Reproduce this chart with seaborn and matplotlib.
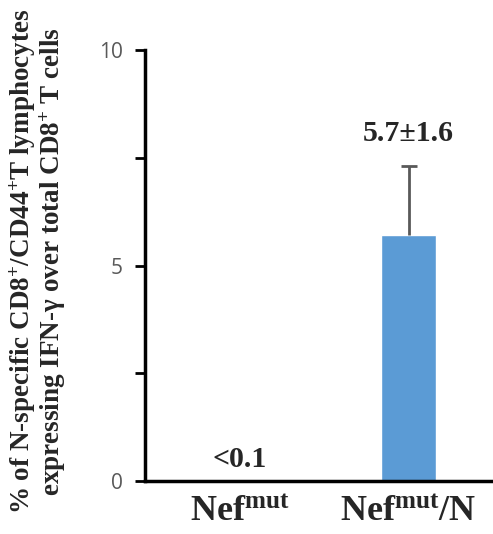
import matplotlib
matplotlib.use("Agg")
import matplotlib.pyplot as plt
import seaborn as sns
import pandas as pd
import numpy as np
from matplotlib.ticker import MultipleLocator

groups = [r"Nef$^{\mathrm{mut}}$", r"Nef$^{\mathrm{mut}}$/N"]
means = [0.0, 5.7]
errors = [0.0, 1.6]
bar_labels = ["<0.1", "5.7±1.6"]

sns.set_style("white")
plt.rcParams["font.family"] = ["Liberation Serif", "DejaVu Serif"]
plt.rcParams["mathtext.fontset"] = "custom"
plt.rcParams["mathtext.rm"] = "Liberation Serif:bold"
plt.rcParams["mathtext.it"] = "Liberation Serif:bold:italic"
plt.rcParams["mathtext.bf"] = "Liberation Serif:bold"

df = pd.DataFrame({"group": groups, "value": means})

fig = plt.figure(figsize=(4.93, 5.34), dpi=100)
ax = fig.add_axes([0.294, 0.0993, 0.706, 0.807])

sns.barplot(data=df, x="group", y="value", color="#5B9BD5", width=0.33,
            errorbar=None, ax=ax, saturation=1)

idx = [i for i, e in enumerate(errors) if e > 0]
m_sel = np.array([means[i] for i in idx])
e_sel = np.array([errors[i] for i in idx])
_, caplines, _ = ax.errorbar(idx, m_sel, yerr=[np.zeros_like(e_sel), e_sel],
                             fmt="none", ecolor="#595959", elinewidth=2,
                             capsize=6, capthick=2)
for cl in caplines:
    if np.allclose(cl.get_ydata(), m_sel):
        cl.set_visible(False)

ax.set_ylim(0, 10)
ax.set_xlim(-0.56, 1.50)
ax.yaxis.set_major_locator(MultipleLocator(5))
ax.yaxis.set_minor_locator(MultipleLocator(2.5))
ax.tick_params(axis="y", which="both", direction="out", length=7, width=2,
               color="black", left=True, labelsize=15, labelcolor="#595959", pad=9)
for lab in ax.get_yticklabels():
    lab.set_family(["Open Sans", "DejaVu Sans"])
ax.tick_params(axis="x", length=0, pad=11)
ax.set_xticklabels(groups, fontsize=26, fontweight="bold")

for s in ["top", "right"]:
    ax.spines[s].set_visible(False)
for s in ["left", "bottom"]:
    ax.spines[s].set_linewidth(2.5)
    ax.spines[s].set_color("black")

ax.set_xlabel("")
ax.set_ylabel("% of N-specific CD8$^{+}$/CD44$^{+}$T lymphocytes\nexpressing IFN-γ over total CD8$^{+}$ T cells",
              fontsize=19.5, fontweight="bold", linespacing=1.0, va="center")
ax.yaxis.set_label_coords(-0.307, 0.51)

ax.text(0, 0.49, bar_labels[0], ha="center", va="center", fontsize=21.5, fontweight="bold")
ax.text(1, 8.07, bar_labels[1], ha="center", va="center", fontsize=21.5, fontweight="bold")

fig.savefig("out.png", dpi=100)
